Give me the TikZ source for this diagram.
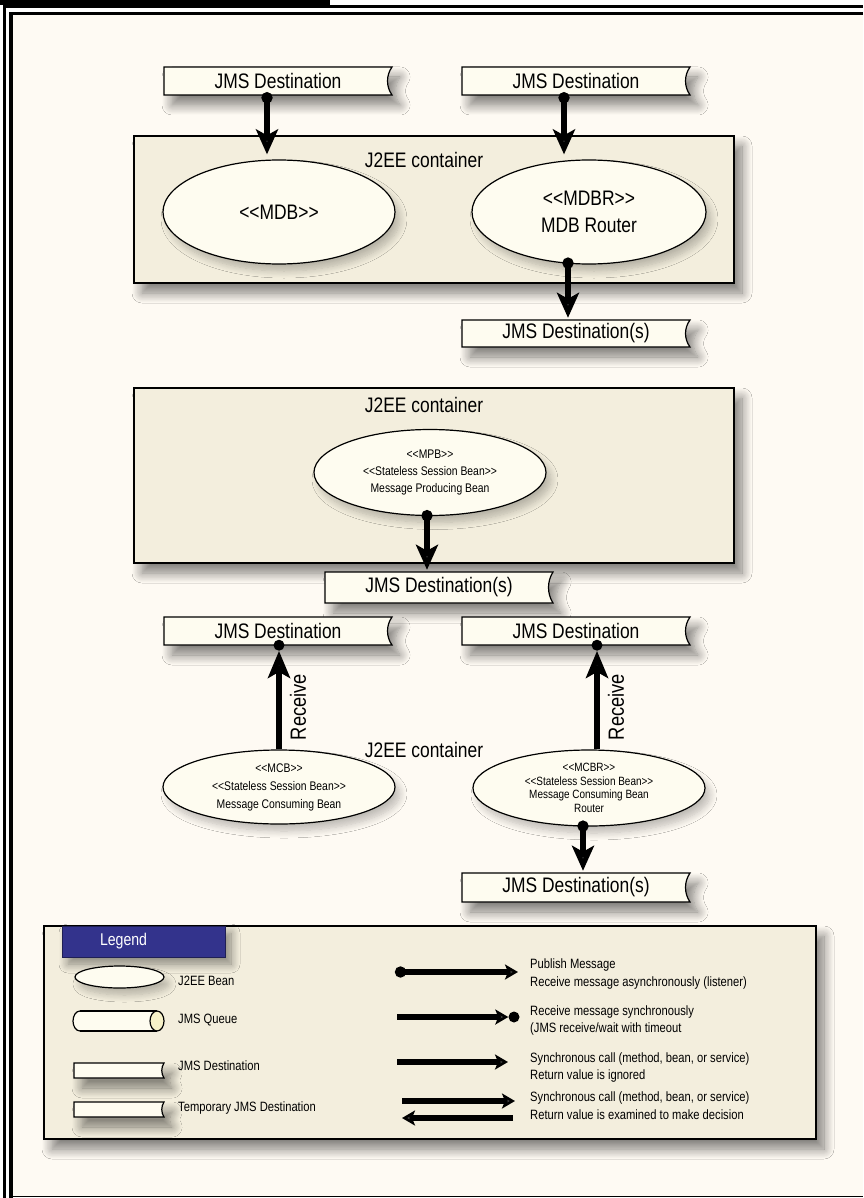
\documentclass[tikz,border=0pt]{standalone}
\usepackage{fontspec}
\setmainfont{Liberation Sans}[FakeStretch=0.83, Ligatures=TeXOff]
\usetikzlibrary{shapes.geometric,arrows.meta,calc,shadows.blur}
\definecolor{paper}{HTML}{FEFAF3}
\definecolor{panel}{HTML}{F3EEDD}
\definecolor{ivory}{HTML}{FEFCF0}
\definecolor{legendblue}{HTML}{33338C}
\definecolor{capfill}{HTML}{F6F1C8}

% a JMS destination: a box whose right end curls inward, with its label on top
% #1 curl depth, #2 name, #3 centre, #4 width, #5 height, #6 label
\newcommand\destnode[6][6]{%
  \coordinate (#2-c) at #3;
  \filldraw[destline] ($(#2-c)+(-#4/2,-#5/2)$) -- ($(#2-c)+(#4/2,-#5/2)$)
    .. controls ($(#2-c)+(#4/2-#1,-#5/5)$) and ($(#2-c)+(#4/2-#1,#5/5)$) .. ($(#2-c)+(#4/2,#5/2)$)
    -- ($(#2-c)+(-#4/2,#5/2)$) -- cycle;
  \node[destbox, minimum width=#4pt, minimum height=#5pt] (#2) at (#2-c) {#6};}

\tikzset{
  bigtext/.style={font=\fontsize{21}{27}\selectfont},
  smalltext/.style={font=\fontsize{12.5}{17}\selectfont},
  legtext/.style={font=\fontsize{13.5}{17.5}\selectfont, anchor=west, align=left, inner sep=0pt},
  softshadow/.style={blur shadow={shadow xshift=8pt, shadow yshift=-10pt, shadow blur radius=10pt,
                     shadow blur steps=12, shadow opacity=50}},
  lightshadow/.style={blur shadow={shadow xshift=5pt, shadow yshift=-7pt, shadow blur radius=7pt,
                     shadow blur steps=10, shadow opacity=25}},
  destbox/.style={inner sep=0pt, bigtext},
  destline/.style={draw=black, line width=1.2pt, fill=ivory, softshadow},
  container/.style={draw=black, line width=1.4pt, fill=panel, softshadow, inner sep=0pt},
  bean/.style={ellipse, draw=black, line width=1.2pt, fill=ivory, inner sep=0pt, align=center, lightshadow},
  pub/.style={line width=6pt, {Circle[length=11pt]}-{Stealth[length=25pt,width=22pt,inset=6pt]}},
  recv/.style={line width=6pt, -{Stealth[length=27pt,width=22pt,inset=6pt]}},
  dotnode/.style={circle, fill=black, inner sep=0pt, minimum size=11pt},
  legarrow/.style={line width=6pt, -{Stealth[length=13pt,width=15pt,inset=3pt]}},
  legdot/.style={line width=6pt, {Circle[length=11pt]}-{Stealth[length=13pt,width=15pt,inset=3pt]}},
}

\begin{document}
\begin{tikzpicture}[x=1pt,y=-1pt]
\useasboundingbox (0,0) rectangle (863,1198);

% page and double frame
\fill[white] (0,0) rectangle (863,1198);
\fill[paper] (11,13) rectangle (863,1196);
\fill[black] (0,0) rectangle (330,5);
\draw[line width=3.3pt] (4.3,1198) -- (4.3,6.5) -- (863,6.5);
\draw[line width=3.3pt] (11,1198) -- (11,13.5) -- (863,13.5);
\draw[line width=1.8pt] (11,1196.5) -- (863,1196.5);

% ---------- message driven beans ----------
\destnode{d1}{(278,81)}{228}{28}{JMS Destination}
\destnode{d2}{(576,81)}{228}{28}{JMS Destination}

\node[container, minimum width=600pt, minimum height=147pt] (c1) at (434,209.5) {};
\node[bigtext] (c1t) at (424,160) {J2EE container};
\node[bean, minimum width=232pt, minimum height=104pt, bigtext] (mdb) at (279,212) {<<MDB>>};
\node[bean, minimum width=234pt, minimum height=104pt, bigtext] (mdbr) at (589,212) {<<MDBR>>\\MDB Router};

\destnode{d3}{(576,333.5)}{228}{27}{JMS Destination(s)}

\draw[pub, shorten <=-3pt, shorten >=5pt] ([xshift=-11pt]d1.south) -- ([xshift=-11pt]d1.south |- mdb.north);
\draw[pub, shorten <=-3pt, shorten >=5pt] ([xshift=-12pt]d2.south) -- ([xshift=-12pt]d2.south |- mdbr.north);
\draw[pub, shorten <=-7pt, shorten >=2pt] ([xshift=-21pt]mdbr.south) -- ([xshift=-21pt]mdbr.south |- d3.north);

% ---------- message producing bean ----------
\node[container, minimum width=600pt, minimum height=175pt] (c2) at (434,475.5) {};
\node[bigtext] (c2t) at (424,405) {J2EE container};
\node[bean, minimum width=232pt, minimum height=86pt, smalltext] (mpb) at (430,472.5)
  {<<MPB>>\\<<Stateless Session Bean>>\\Message Producing Bean};

\destnode{d4}{(439,587.5)}{228}{31}{JMS Destination(s)}

\draw[pub, shorten <=-6pt, shorten >=2pt] ([xshift=-3pt]mpb.south) -- ([xshift=-3pt]mpb.south |- d4.north);

% ---------- message consuming beans ----------
\destnode{d5}{(278,631)}{228}{28}{JMS Destination}
\destnode{d6}{(576,631)}{228}{28}{JMS Destination}

\node[bigtext] (c3t) at (424,750) {J2EE container};
\node[bean, minimum width=232pt, minimum height=74pt, font=\fontsize{12.5}{18}\selectfont] (mcb) at (279,787)
  {<<MCB>>\\<<Stateless Session Bean>>\\Message Consuming Bean};
\node[bean, minimum width=232pt, minimum height=76pt, font=\fontsize{12}{13.5}\selectfont] (mcbr) at (589,788)
  {<<MCBR>>\\<<Stateless Session Bean>>\\Message Consuming Bean\\Router};

\node[dotnode] (p5) at ([xshift=1pt]d5.south) {};
\node[dotnode] (p6) at ([xshift=21pt]d6.south) {};

\draw[recv] (p5 |- mcb.north) -- (p5.south)
  node[pos=0.43, rotate=90, anchor=north, inner sep=8pt, font=\fontsize{22}{26}\selectfont] (r5) {Receive};
\draw[recv] (p6 |- mcbr.north) -- (p6.south)
  node[pos=0.43, rotate=90, anchor=north, inner sep=8pt, font=\fontsize{22}{26}\selectfont] (r6) {Receive};

\destnode{d7}{(576,887.5)}{228}{29}{JMS Destination(s)}
\draw[pub, shorten <=-6pt, shorten >=2pt] ([xshift=-6pt]mcbr.south) -- ([xshift=-6pt]mcbr.south |- d7.north);

% ---------- legend ----------
\node[container, minimum width=772pt, minimum height=213pt] (lg) at (430,1032.5) {};
\node[fill=legendblue, draw=legendblue!60!black, line width=0.8pt, text=white,
      minimum height=31pt, inner xsep=38pt, text width=87pt, align=left,
      font=\fontsize{17}{20}\selectfont,
      blur shadow={shadow xshift=6pt, shadow yshift=-7pt, shadow blur radius=9pt,
                   shadow blur steps=10, shadow opacity=45}]
      (lh) at (143.5,941.5) {Legend};

\node[bean, minimum width=89pt, minimum height=22pt] (l1) at (119.5,977) {};

% queue symbol: a horizontal cylinder with its end cap on the right
\node[minimum width=91pt, minimum height=20pt, inner sep=0pt] (l2) at (118.5,1021) {};
\filldraw[fill=ivory, line width=1.2pt] ($(l2)+(-38.5,0)$) ellipse [x radius=7, y radius=10];
\fill[ivory] ($(l2)+(-38.5,-9.4)$) rectangle ($(l2)+(38.5,9.4)$);
\draw[line width=1.2pt] ($(l2)+(-38.5,-10)$) -- ($(l2)+(38.5,-10)$);
\draw[line width=1.2pt] ($(l2)+(-38.5,10)$) -- ($(l2)+(38.5,10)$);
\filldraw[fill=capfill, line width=1.2pt] ($(l2)+(38.5,0)$) ellipse [x radius=7, y radius=10];

\destnode[3]{l3}{(119,1070.5)}{90}{15}{}
\destnode[3]{l4}{(119,1109.5)}{90}{15}{}

\node[legtext] (l1t) at (178,981) {J2EE Bean};
\node[legtext] (l2t) at (178,1020) {JMS Queue};
\node[legtext] (l3t) at (178,1066) {JMS Destination};
\node[legtext] (l4t) at (178,1108) {Temporary JMS Destination};

\coordinate (a1s) at (395,972);
\coordinate (a1e) at (518,972);
\draw[legdot] (a1s) -- (a1e);
\coordinate (a2s) at (397,1017);
\node[dotnode] (a2d) at (514,1017) {};
\draw[legarrow] (a2s) -- (a2d.west);
\coordinate (a3s) at (397,1062);
\coordinate (a3e) at (508,1062);
\draw[legarrow] (a3s) -- (a3e);
\coordinate (a4s) at (402,1101);
\coordinate (a4e) at (515,1101);
\draw[legarrow] (a4s) -- (a4e);
\coordinate (a5s) at (513,1118);
\coordinate (a5e) at (402,1118);
\draw[legarrow] (a5s) -- (a5e);

\node[legtext] (t1) at (530,974) {Publish Message\\Receive message asynchronously (listener)};
\node[legtext] (t2) at (530,1020.5) {Receive message synchronously\\(JMS receive/wait with timeout};
\node[legtext] (t3) at (530,1067.5) {Synchronous call (method, bean, or service)\\Return value is ignored};
\node[legtext] (t4) at (530,1105.5) {Synchronous call (method, bean, or service)\\Return value is examined to make decision};
\end{tikzpicture}
\end{document}
